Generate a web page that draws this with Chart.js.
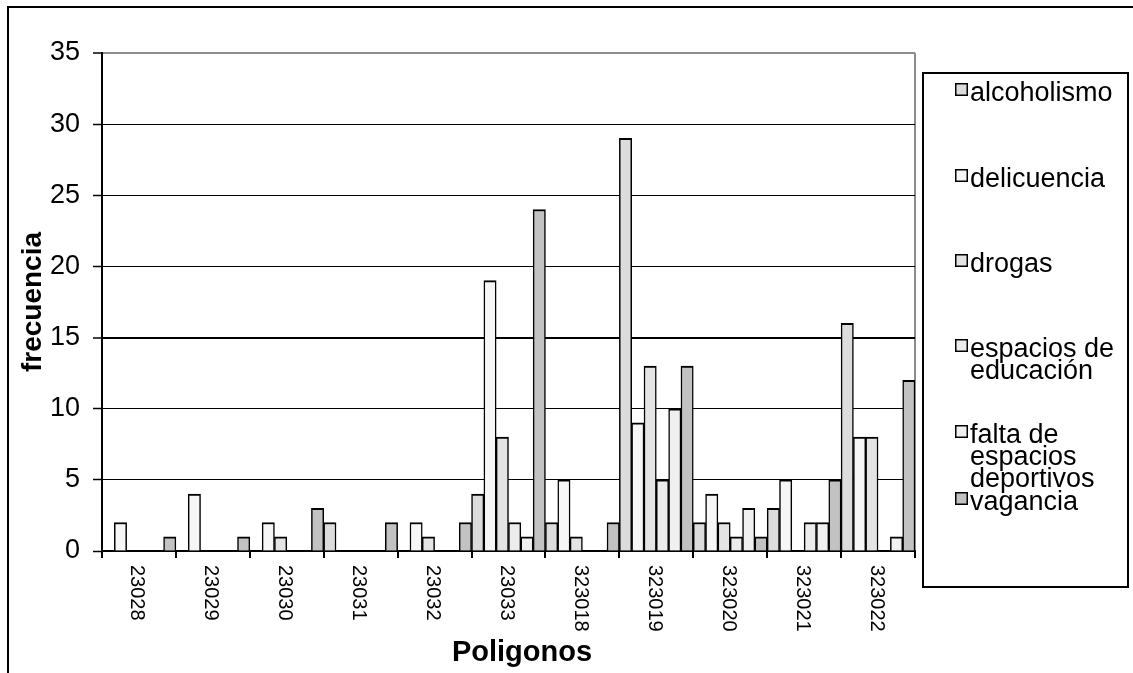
<!DOCTYPE html>
<html>
<head>
<meta charset="utf-8">
<script src="https://cdn.jsdelivr.net/npm/chart.js@4.4.1/dist/chart.umd.min.js"></script>
<style>
  html, body { margin: 0; padding: 0; background: #fff; }
  #wrap { width: 1133px; height: 673px; }
</style>
</head>
<body>
<div id="wrap"><canvas id="chart" width="1133" height="673"></canvas></div>
<script>
// categorias (poligonos)
const categories = ['23028', '23029', '23030', '23031', '23032', '23033',
                    '323018', '323019', '323020', '323021', '323022'];

// frecuencias por problema
const alcoholismo = [0, 0, 0, 2, 0, 4, 2, 29, 2, 3, 16];
const delicuencia = [2, 4, 2, 0, 2, 19, 5, 9, 4, 5, 8];
const drogas      = [0, 0, 1, 0, 1, 8, 1, 13, 2, 0, 8];
const espaciosEdu = [0, 0, 0, 0, 0, 2, 0, 5, 1, 2, 0];
const faltaEsp    = [0, 0, 0, 0, 0, 1, 0, 10, 3, 2, 1];
const vagancia    = [1, 1, 3, 2, 2, 24, 2, 13, 1, 5, 12];

// etiquetas de leyenda (con saltos de linea como en el original)
const legendLines = [
  ['alcoholismo'],
  ['delicuencia'],
  ['drogas'],
  ['espacios de', 'educación'],
  ['falta de', 'espacios', 'deportivos'],
  ['vagancia']
];
const yTicks = { min: 0, max: 35, step: 5 };
const yTitle = 'frecuencia';
const xTitle = 'Poligonos';

const FF = '"Liberation Sans", Arial, Helvetica, sans-serif';
Chart.defaults.font.family = FF;
Chart.defaults.color = '#000';

const fills = ['#dcdcdc', '#f6f6f6', '#e4e4e4', '#ececec', '#f0f0f0', '#c2c2c2'];
const series = [alcoholismo, delicuencia, drogas, espaciosEdu, faltaEsp, vagancia];

// posiciones de la leyenda (linea base de cada entrada)
const legendBase = [101, 187, 272, 357, 443, 510];

const decor = {
  id: 'decor',
  beforeDraw(chart) {
    const c = chart.ctx;
    c.save();
    c.fillStyle = '#fff';
    c.fillRect(0, 0, chart.width, chart.height);
    c.restore();
  },
  afterDraw(chart) {
    const c = chart.ctx;
    const xs = chart.scales.x;
    c.save();

    // marco exterior
    c.strokeStyle = '#000';
    c.lineWidth = 2;
    c.beginPath();
    c.moveTo(8, chart.height);
    c.lineTo(8, 7);
    c.lineTo(chart.width, 7);
    c.stroke();

    // etiquetas del eje x, giradas hacia abajo
    c.fillStyle = '#000';
    c.font = '20px ' + FF;
    c.textAlign = 'left';
    c.textBaseline = 'middle';
    chart.data.labels.forEach((lab, i) => {
      c.save();
      c.translate(xs.getPixelForValue(i) - 2, 565);
      c.rotate(Math.PI / 2);
      c.fillText(lab, 0, 0);
      c.restore();
    });

    // titulo eje x
    c.font = 'bold 29px ' + FF;
    c.textAlign = 'center';
    c.textBaseline = 'alphabetic';
    c.fillText(xTitle, 522, 661);

    // leyenda
    c.lineWidth = 2;
    c.strokeRect(923, 73, 205, 514);
    c.font = '27px ' + FF;
    c.textAlign = 'left';
    chart.data.datasets.forEach((ds, i) => {
      const b = legendBase[i];
      c.fillStyle = ds.backgroundColor;
      c.fillRect(955, b - 18, 13, 13);
      c.lineWidth = 1.5;
      c.strokeStyle = '#000';
      c.strokeRect(955.75, b - 17.25, 11.5, 11.5);
      c.fillStyle = '#000';
      legendLines[i].forEach((t, k) => c.fillText(t, 970, b + k * 22));
    });
    c.restore();
  }
};

new Chart(document.getElementById('chart'), {
  type: 'bar',
  data: {
    labels: categories,
    datasets: series.map((d, i) => ({
      label: legendLines[i].join(' '),
      data: d,
      backgroundColor: fills[i],
      borderColor: '#000',
      borderWidth: { top: 2, left: 1.5, right: 1.5, bottom: 0 },
      borderSkipped: 'bottom',
      categoryPercentage: 1,
      barPercentage: 1
    }))
  },
  options: {
    responsive: false,
    animation: false,
    devicePixelRatio: 1,
    layout: { padding: { left: 10, top: 53, right: 218, bottom: 0 } },
    plugins: {
      legend: { display: false },
      tooltip: { enabled: false }
    },
    scales: {
      x: {
        offset: true,
        grid: {
          offset: true,
          drawOnChartArea: true,
          color: (ctx) => ctx.type === 'scale' ? '#8c8c8c' : 'rgba(0,0,0,0)',
          lineWidth: 2,
          tickColor: '#000',
          tickLength: 7,
          tickWidth: 2
        },
        border: { color: '#000', width: 2 },
        ticks: { display: false },
        afterFit(scale) { scale.height = 122; }
      },
      y: {
        min: yTicks.min,
        max: yTicks.max,
        ticks: {
          stepSize: yTicks.step,
          font: { size: 27 },
          color: '#000',
          padding: 13
        },
        grid: {
          color: (ctx) => ctx.tick && ctx.tick.value === yTicks.max ? '#8c8c8c' : '#000',
          lineWidth: (ctx) => ctx.tick && (ctx.tick.value === 15 || ctx.tick.value === yTicks.max) ? 2 : 1,
          tickColor: '#000',
          tickLength: 9,
          tickWidth: 1.5
        },
        border: { color: '#000', width: 2 },
        title: {
          display: true,
          text: yTitle,
          font: { size: 28, weight: 'bold' },
          color: '#000',
          padding: { top: 6, bottom: 0 }
        },
        afterFit(scale) { scale.width = 92; }
      }
    }
  },
  plugins: [decor]
});
</script>
</body>
</html>
